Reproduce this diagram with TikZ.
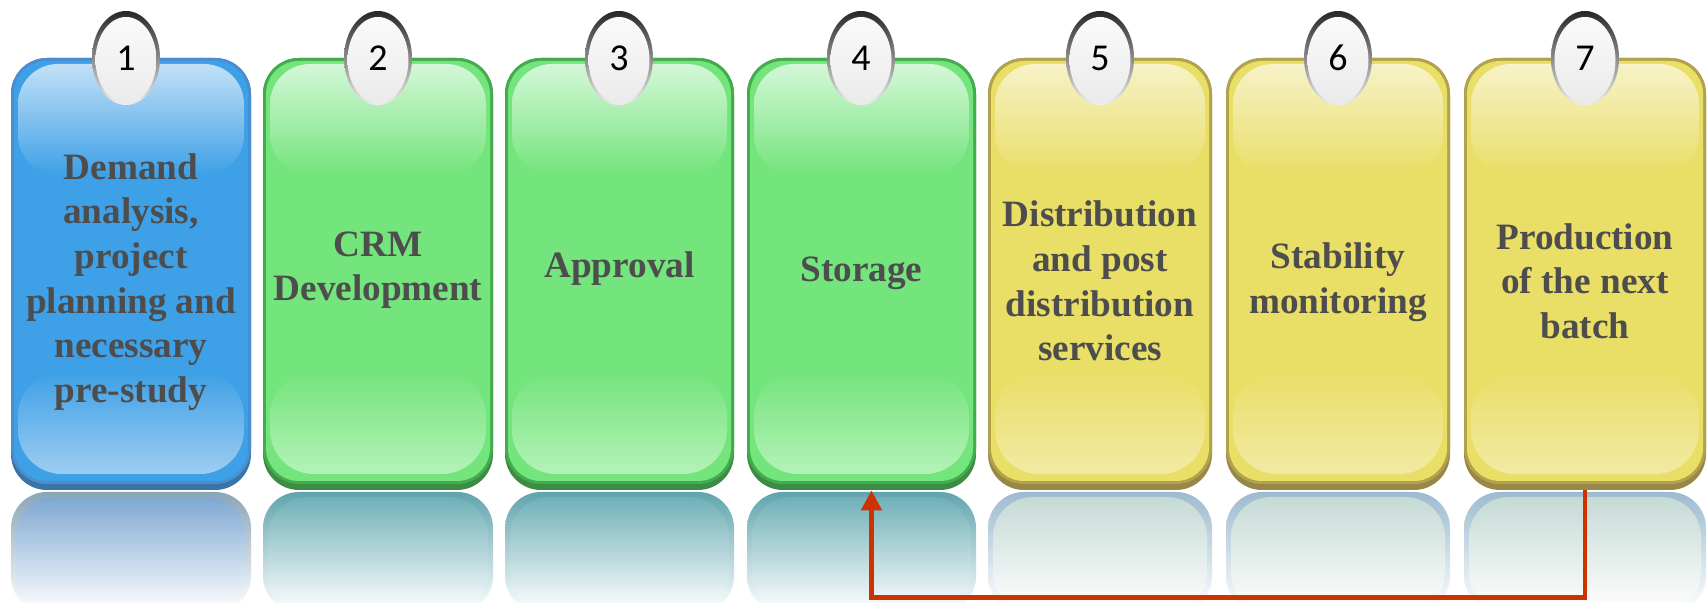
\documentclass[tikz,border=0pt]{standalone}
\usepackage{fontspec}
\setmainfont{Liberation Serif}[BoldFont={Liberation Serif Bold}]
\newfontfamily\boxfont{Liberation Serif}[BoldFont={Liberation Serif Bold}]
\newfontfamily\numfont{Carlito}
\usetikzlibrary{fit,arrows.meta,calc}
% blue
\definecolor{Bshadow}{HTML}{3A74A6}
\definecolor{Bborder}{HTML}{4A8ED2}
\definecolor{Bmain}{HTML}{3EA0E6}
\definecolor{Btop}{HTML}{C2E1F7}
\definecolor{Bbot}{HTML}{9DCDF1}
\definecolor{Brim}{HTML}{8AA6B8}
\definecolor{Bref}{HTML}{7EA8D2}
% green
\definecolor{Gshadow}{HTML}{3D8C46}
\definecolor{Gborder}{HTML}{43AC4C}
\definecolor{Gmain}{HTML}{74E47C}
\definecolor{Gtop}{HTML}{D4F7D8}
\definecolor{Gbot}{HTML}{B4F2B8}
\definecolor{Grim}{HTML}{60A4AE}
\definecolor{Gref}{HTML}{70B0B8}
% yellow
\definecolor{Yshadow}{HTML}{978848}
\definecolor{Yborder}{HTML}{B3A24C}
\definecolor{Ymain}{HTML}{E9DE66}
\definecolor{Ytop}{HTML}{F7F2C8}
\definecolor{Ybot}{HTML}{F2EAA4}
\definecolor{Yrim}{HTML}{9DBBCF}
\definecolor{Yref}{HTML}{C6DAD5}
\definecolor{txt}{HTML}{4D4D4D}
\definecolor{arrowred}{HTML}{CC3300}
\tikzset{
  boxtext/.style={font=\boxfont\bfseries\fontsize{18.6pt}{22.3pt}\selectfont, text=txt, align=center, inner sep=0pt},
  badgenum/.style={font=\numfont\fontsize{19pt}{19pt}\selectfont, text=black, inner sep=0pt},
  flow/.style={draw=arrowred, line width=2.4pt, -{Triangle[width=10pt,length=10pt]}},
}
% #1 name, #2 left, #3 right, #4 colour prefix, #5 badge x, #6 number, #7 text y, #8 text
\newcommand\gbox[8]{%
  \node[fit={(#2,58) (#3,490)}, inner sep=0pt] (#1) {};
  \fill[#4shadow, rounded corners=18pt] (#2,58) rectangle (#3,490);
  \fill[#4border, rounded corners=18pt] (#2,58) rectangle (#3,484);
  \fill[#4main, rounded corners=16.5pt] ($(#2,58)+(3,3)$) rectangle ($(#3,484)+(-3,-3)$);
  \shade[top color=#4top, bottom color=#4main, rounded corners=20pt] ($(#2,64)+(7,0)$) rectangle ($(#3,175)+(-7,0)$);
  \shade[top color=#4main, bottom color=#4bot, rounded corners=22pt] ($(#2,372)+(7,0)$) rectangle ($(#3,474)+(-7,0)$);
  \begin{scope}
    \clip (0,0) rectangle (1708,603);
    \shade[top color=#4rim, bottom color=white, rounded corners=18pt] (#2,492) rectangle (#3,612);
    \shade[top color=#4ref, bottom color=white, rounded corners=20pt] ($(#2,497)+(5,0)$) rectangle ($(#3,612)+(-5,0)$);
  \end{scope}
  \shade[top color=black!85, middle color=black!50, bottom color=black!6] (#5,58) ellipse [x radius=34, y radius=47];
  \shade[top color=black!2, middle color=black!14, bottom color=black!8] (#5,60) ellipse [x radius=30.5, y radius=43];
  \node[badgenum] (#1n) at (#5,58) {#6};
  \node[boxtext] (#1t) at ($(#2,#7)!0.5!(#3,#7)$) {#8};
}
\begin{document}
\begin{tikzpicture}[x=0.5pt,y=-0.5pt]
\useasboundingbox (0,0) rectangle (1708,603);
\fill[white] (0,0) rectangle (1708,603);
\gbox{b1}{11}{251}{B}{126}{1}{282}{Demand\\analysis,\\project\\planning and\\necessary\\pre-study}
\gbox{b2}{263}{493}{G}{378}{2}{270}{CRM\\Development}
\gbox{b3}{505}{734}{G}{619}{3}{269}{Approval}
\gbox{b4}{747}{976}{G}{861}{4}{273}{Storage}
\gbox{b5}{988}{1212}{Y}{1100}{5}{281}{Distribution\\and post\\distribution\\services}
\gbox{b6}{1226}{1450}{Y}{1338}{6}{282}{Stability\\monitoring}
\gbox{b7}{1464}{1706}{Y}{1585}{7}{281}{Production\\of the next\\batch}
\draw[flow] (b7.south) -- ++(0,107) -| ([xshift=5pt]b4.south);
\end{tikzpicture}
\end{document}
